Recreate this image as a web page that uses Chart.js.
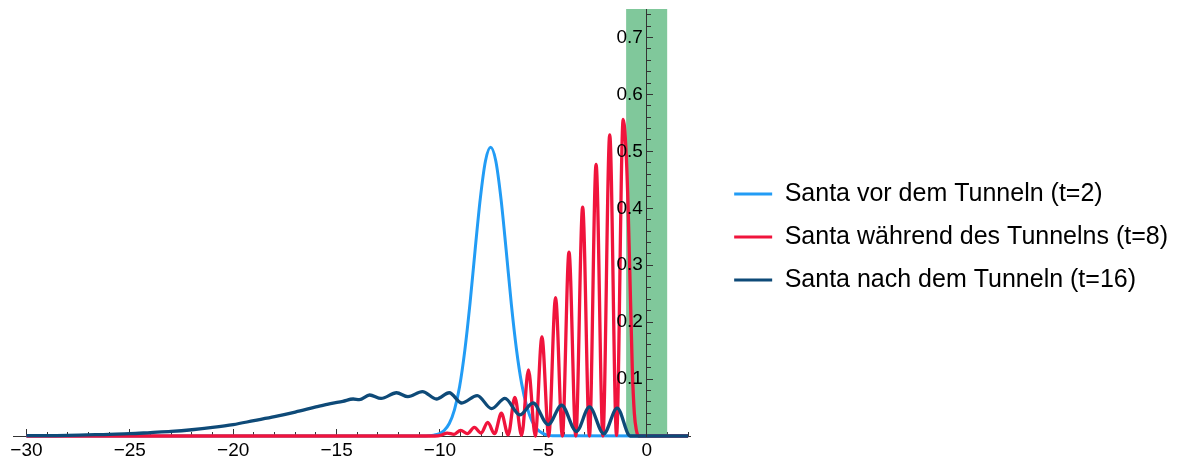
<!DOCTYPE html>
<html lang="de">
<head>
<meta charset="UTF-8">
<title>Santa tunnelt</title>
<script src="https://cdn.jsdelivr.net/npm/chart.js@4.4.1/dist/chart.umd.min.js"></script>
<style>
  html, body { margin: 0; padding: 0; background: #fff; }
</style>
</head>
<body>
<canvas id="santa" width="1178" height="459"></canvas>
<script>
// Werte (x in Einheiten, y = Wahrscheinlichkeitsdichte)
const seriesNames = [
  'Santa vor dem Tunneln (t=2)',
  'Santa während des Tunnelns (t=8)',
  'Santa nach dem Tunneln (t=16)'
];

const blueX = [-30, -10.8, -10.55, -10.3, -10.05, -9.8, -9.55, -9.3, -9.05, -8.8, -8.55, -8.3, -8.05, -7.8,
  -7.55, -7.3, -7.05, -6.8, -6.55, -6.3, -6.05, -5.8, -5.55, -5.3, -5.05, -4.8, -4.55, 2];
const blueY = [0, 0, 0.0004, 0.0014, 0.0038, 0.0097, 0.022, 0.046, 0.087, 0.150, 0.232, 0.327, 0.417, 0.483,
  0.507, 0.483, 0.417, 0.327, 0.232, 0.152, 0.092, 0.052, 0.026, 0.012, 0.005, 0.0016, 0.0004, 0];

const redX = [-30, -10.25, -9.97, -9.65, -9.32, -9.0, -8.67, -8.34, -8.01, -7.69, -7.36, -7.03, -6.70, -6.38,
  -6.05, -5.72, -5.39, -5.07, -4.74, -4.41, -4.08, -3.76, -3.43, -3.10, -2.77, -2.45, -2.12, -1.79, -1.46, -1.14,
  -1.0, -0.9, -0.8, -0.7, -0.6, -0.5, -0.4, 2];
const redY = [0, 0, 0.001, 0.005, 0.003, 0.010, 0.004, 0.015, 0.005, 0.024, 0.004, 0.040, 0.002, 0.068,
  0.001, 0.116, 0, 0.174, 0, 0.243, 0, 0.323, 0, 0.402, 0, 0.477, 0, 0.529, 0.001, 0.556,
  0.50, 0.40, 0.26, 0.12, 0.04, 0.01, 0, 0];

const navyX = [-30, -28, -26, -25, -24, -23, -22, -21, -20, -19, -18, -17, -16, -15.3, -14.7, -14.2, -13.9,
  -13.4, -12.85, -12.1, -11.55, -10.85, -10.17, -9.55, -8.95, -8.2, -7.5, -6.86, -6.14, -5.5, -4.77, -4.12,
  -3.4, -2.77, -2.08, -1.43, -0.8, 2];
const navyY = [0.0005, 0.001, 0.003, 0.004, 0.006, 0.008, 0.011, 0.015, 0.020, 0.027, 0.034, 0.042, 0.051,
  0.057, 0.061, 0.065, 0.064, 0.072, 0.066, 0.076, 0.069, 0.078, 0.065, 0.076, 0.058, 0.071, 0.048, 0.066,
  0.037, 0.058, 0.020, 0.054, 0.008, 0.051, 0.004, 0.049, 0, 0];

// Tunnelbarriere (gruen)
const barrierX = [-1, 1];
const barrierY = [0.75, 0.75];

const xTickValues = [-30, -25, -20, -15, -10, -5, 0];
const yTickValues = [0.1, 0.2, 0.3, 0.4, 0.5, 0.6, 0.7];

const FONT = 'Liberation Sans, Arial, Helvetica, sans-serif';
const AXIS = '#333';

const pts = (xs, ys) => xs.map((x, i) => ({ x: x, y: ys[i] }));
const minus = v => (v < 0 ? '\u2212' + Math.abs(v) : String(v));

const minorX = s => {
  const t = [];
  for (let v = -30; v <= 2; v++) t.push({ value: v });
  s.ticks = t;
};
const minorY = s => {
  const t = [];
  for (let k = 1; k <= 37; k++) t.push({ value: k / 50 });
  s.ticks = t;
};

new Chart(document.getElementById('santa'), {
  type: 'line',
  data: {
    datasets: [
      { label: seriesNames[0], data: pts(blueX, blueY), borderColor: '#229cf5', backgroundColor: '#229cf5',
        borderWidth: 3, order: 2 },
      { label: seriesNames[1], data: pts(redX, redY), borderColor: '#f0143c', backgroundColor: '#f0143c',
        borderWidth: 3.3, order: 1 },
      { label: seriesNames[2], data: pts(navyX, navyY), borderColor: '#0e4a78', backgroundColor: '#0e4a78',
        borderWidth: 3.3, order: 0 },
      { label: 'barrier', data: pts(barrierX, barrierY), borderWidth: 0, backgroundColor: '#80c89b',
        fill: 'origin', cubicInterpolationMode: 'default', tension: 0, order: 3 }
    ]
  },
  options: {
    responsive: false,
    animation: false,
    devicePixelRatio: 1,
    layout: { padding: { left: 13, right: 0, top: 9, bottom: -6 } },
    elements: {
      point: { radius: 0 },
      line: { cubicInterpolationMode: 'monotone', fill: false }
    },
    datasets: { line: { clip: false } },
    scales: {
      x: {
        type: 'linear', min: -30.65, max: 2.1, position: 'bottom',
        afterBuildTicks: s => { s.ticks = xTickValues.map(v => ({ value: v })); },
        afterFit: s => { s.height = 29; s.paddingLeft = 0; s.paddingRight = 0; },
        ticks: { font: { family: FONT, size: 19 }, color: '#000', padding: 10, maxRotation: 0,
                 autoSkip: false, callback: v => minus(v) },
        grid: { drawOnChartArea: false, tickLength: -7, color: AXIS },
        border: { color: AXIS }
      },
      y: {
        type: 'linear', min: 0, max: 0.75, position: { x: 0 },
        afterBuildTicks: s => { s.ticks = yTickValues.map(v => ({ value: v })); },
        afterFit: s => { s.paddingTop = 0; s.paddingBottom = 0; },
        ticks: { font: { family: FONT, size: 19 }, color: '#000', padding: 10, z: 1,
                 callback: v => v.toFixed(1) + '\u2009' },
        grid: { drawOnChartArea: false, tickLength: -7, color: AXIS, z: 1 },
        border: { color: AXIS, z: 1 }
      },
      xMinor: {
        type: 'linear', axis: 'x', min: -30.65, max: 2.1, position: { y: 0 },
        afterBuildTicks: minorX,
        ticks: { display: false },
        grid: { drawOnChartArea: false, tickLength: -4, color: AXIS },
        border: { display: false }
      },
      yMinor: {
        type: 'linear', axis: 'y', min: 0, max: 0.75, position: { x: 0 },
        afterBuildTicks: minorY,
        ticks: { display: false },
        grid: { drawOnChartArea: false, tickLength: -4, color: AXIS, z: 1 },
        border: { display: false }
      },
      gap: {
        type: 'linear', axis: 'y', position: 'right',
        ticks: { display: false }, grid: { display: false }, border: { display: false },
        afterFit: s => { s.width = 26; }
      }
    },
    plugins: {
      tooltip: { enabled: false },
      legend: {
        position: 'right',
        align: 'center',
        maxWidth: 600,
        labels: {
          boxWidth: 38, boxHeight: 3, padding: 18, color: '#000',
          font: { family: FONT, size: 25 },
          filter: item => item.datasetIndex < 3,
          sort: (a, b) => a.datasetIndex - b.datasetIndex,
          generateLabels: chart => Chart.defaults.plugins.legend.labels.generateLabels(chart)
            .map(l => Object.assign(l, { lineWidth: 0 }))
        }
      }
    }
  }
});
</script>
</body>
</html>
